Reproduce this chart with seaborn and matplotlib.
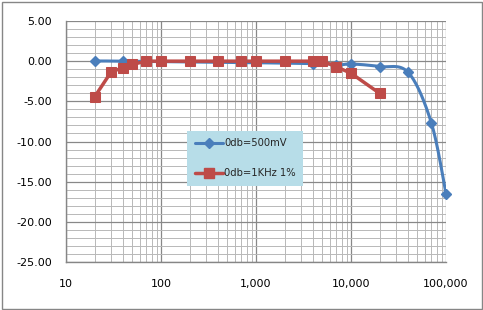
import numpy as np
import pandas as pd
import matplotlib
matplotlib.use("Agg")
import matplotlib.pyplot as plt
from matplotlib.lines import Line2D
from matplotlib.ticker import FixedLocator, FuncFormatter, NullFormatter, MultipleLocator
import seaborn as sns

# Data
blue_label = "0db=500mV"
red_label = "0db=1KHz 1%"
blue_freq = [20, 40, 4000, 7000, 10000, 20000, 40000, 70000, 100000]
blue_db = [0.0, 0.0, -0.3, -0.5, -0.35, -0.67, -1.4, -7.65, -16.5]
red_freq = [20, 30, 40, 50, 70, 100, 200, 400, 700, 1000, 2000, 4000, 5000, 7000, 10000, 20000]
red_db = [-4.45, -1.3, -0.83, -0.4, 0.0, 0.0, 0.0, 0.0, 0.0, 0.0, 0.0, 0.0, 0.0, -0.7, -1.5, -4.0]
x_ticks = [10, 100, 1000, 10000, 100000]
y_ticks = [5, 0, -5, -10, -15, -20, -25]

BLUE = "#4A7EBB"
RED = "#BE4B48"

sns.set_theme(style="white")
plt.rcParams['font.family'] = ['DejaVu Sans']

fig = plt.figure(figsize=(4.83, 3.10), dpi=100)
ax = fig.add_axes([66/483, 1 - 262/310, (446 - 66)/483, (262 - 21)/310])


def smooth(xs, ys, n=30):
    # Catmull-Rom rendering in log-x space (Excel "smoothed line" style)
    lx = np.log10(xs)
    ys = np.asarray(ys, float)
    P = np.column_stack([lx, ys])
    P = np.vstack([P[0], P, P[-1]])
    out = []
    for i in range(1, len(P) - 2):
        p0, p1, p2, p3 = P[i - 1], P[i], P[i + 1], P[i + 2]
        t = np.linspace(0, 1, n)[:, None]
        c1 = p1 + (p2 - p0) / 6
        c2 = p2 - (p3 - p1) / 6
        seg = ((1 - t) ** 3) * p1 + 3 * ((1 - t) ** 2) * t * c1 + 3 * (1 - t) * t ** 2 * c2 + t ** 3 * p2
        out.append(seg)
    out = np.vstack(out)
    return 10 ** out[:, 0], out[:, 1]

sx, sy = smooth(blue_freq, blue_db)
curve = pd.DataFrame({"f": sx, "db": sy})
blue_df = pd.DataFrame({"f": blue_freq, "db": blue_db})
red_df = pd.DataFrame({"f": red_freq, "db": red_db})

ax.set_xscale("log")
ax.set_xlim(10, 100000)
ax.set_ylim(-25, 5)

sns.lineplot(data=curve, x="f", y="db", ax=ax, color=BLUE, lw=2.2, sort=False, zorder=3, estimator=None)
ax.plot(blue_df["f"], blue_df["db"], ls="none", marker="D", ms=5.5, color=BLUE, zorder=4, clip_on=False)
sns.lineplot(data=red_df, x="f", y="db", ax=ax, color=RED, lw=2.5, marker="s", ms=7.5,
             markeredgecolor=RED, sort=False, zorder=5, estimator=None)

# grids
ax.xaxis.set_major_locator(FixedLocator(x_ticks))
minors = [m * 10 ** e for e in range(1, 5) for m in range(2, 10)]
ax.xaxis.set_minor_locator(FixedLocator(minors))
ax.xaxis.set_minor_formatter(NullFormatter())
ax.xaxis.set_major_formatter(FuncFormatter(lambda v, p: f"{int(round(v)):,}"))
ax.yaxis.set_major_locator(FixedLocator(y_ticks))
ax.yaxis.set_minor_locator(MultipleLocator(1))
ax.yaxis.set_major_formatter(FuncFormatter(lambda v, p: f"{v:.2f}"))
ax.grid(True, which="major", color="#888888", lw=0.9)
ax.grid(True, which="minor", color="#B8B8B8", lw=0.7)
ax.set_axisbelow(True)
ax.set_xlabel("")
ax.set_ylabel("")
for s in ["top", "right"]:
    ax.spines[s].set_visible(False)
for s in ["left", "bottom"]:
    ax.spines[s].set_color("#868686")
    ax.spines[s].set_linewidth(1.0)
ax.tick_params(axis="both", which="major", labelsize=8, colors="#868686", labelcolor="black",
               direction="out", length=4, width=0.9, pad=6)
ax.tick_params(axis="both", which="minor", length=0)
ax.tick_params(axis="x", pad=8)

handles = [
    Line2D([], [], color=BLUE, lw=2.2, marker="D", ms=5, label=blue_label),
    Line2D([], [], color=RED, lw=2.5, marker="s", ms=7, label=red_label),
]
leg = ax.legend(handles=handles, loc="upper left", bbox_to_anchor=((187 - 66) / 380, (262 - 131) / 241),
                frameon=True, fancybox=False, framealpha=1, facecolor="#B7DDE8", edgecolor="#B7DDE8",
                fontsize=7.2, labelspacing=2.0, handlelength=2.8, handletextpad=0.15, borderpad=0.75,
                borderaxespad=0)
leg.get_frame().set_linewidth(0)

fig.patches.append(plt.Rectangle((1.5 / 483, 1.5 / 310), 480 / 483, 307 / 310, transform=fig.transFigure,
                                 fill=False, edgecolor="#868686", lw=1.0))
fig.savefig("out.png", dpi=100)
